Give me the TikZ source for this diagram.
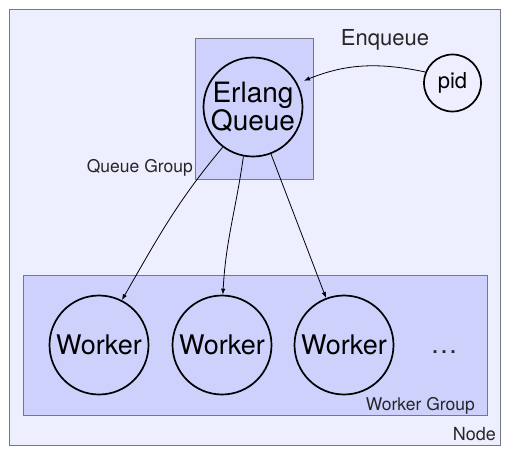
\documentclass[tikz,border=0pt]{standalone}
\usepackage{fontspec}
\setmainfont{TeX Gyre Heros}
\usetikzlibrary{arrows.meta}
\definecolor{outerfill}{RGB}{237,239,254}
\definecolor{groupfill}{RGB}{205,209,252}
\definecolor{boxline}{RGB}{120,120,130}
\tikzset{
  areabox/.style={draw=boxline, line width=0.8pt, anchor=north west, inner sep=0pt},
  proc/.style={circle, draw=black, line width=1.7pt, inner sep=0pt, minimum size=99pt, align=center},
  msg/.style={-{Latex[length=6pt,width=4.5pt]}, line width=0.8pt, black},
  lbl/.style={inner sep=0pt, text=black!85}
}
\begin{document}
\begin{tikzpicture}[x=1pt,y=1pt]
\useasboundingbox (0,0) rectangle (513,-456);
% outer node area
\node[areabox, fill=outerfill, minimum width=491pt, minimum height=436pt] (nodebox) at (9,-9) {};
% groups
\node[areabox, fill=groupfill, minimum width=118pt, minimum height=141pt] (qgroup) at (195,-38) {};
\node[areabox, fill=groupfill, minimum width=464pt, minimum height=140pt] (wgroup) at (23,-275) {};
% processes
\node[proc, font=\fontsize{28}{27}\selectfont] (eq) at (253,-107) {Erlang\\Queue};
\node[proc, minimum size=57pt, font=\fontsize{22}{24}\selectfont] (pid) at (452.5,-83) {pid};
\node[proc, font=\fontsize{27}{28}\selectfont] (w1) at (99,-345) {Worker};
\node[proc, font=\fontsize{27}{28}\selectfont] (w2) at (222,-345) {Worker};
\node[proc, font=\fontsize{27}{28}\selectfont] (w3) at (344,-345) {Worker};
\node[lbl, font=\fontsize{27}{28}\selectfont] (dots) at (444,-352) {\dots};
% labels
\node[lbl, anchor=base, font=\fontsize{22}{24}\selectfont] (enq) at (385,-45) {Enqueue};
\node[lbl, anchor=base east, font=\fontsize{17.5}{20}\selectfont] (qlbl) at (193,-172) {Queue Group};
\node[lbl, anchor=base east, font=\fontsize{17.5}{20}\selectfont] (wlbl) at (475,-410) {Worker Group};
\node[lbl, anchor=base east, font=\fontsize{18}{20}\selectfont] (nlbl) at (496,-440) {Node};
% connectors
\draw[msg, shorten >=7pt] (pid.158) to[out=168,in=22] (eq.28);
\draw[msg] (eq.233) to[out=230,in=60] (w1.63);
\draw[msg] (eq.259) to[out=262,in=87] (w2.89);
\draw[msg] (eq) -- (w3);
\end{tikzpicture}
\end{document}
